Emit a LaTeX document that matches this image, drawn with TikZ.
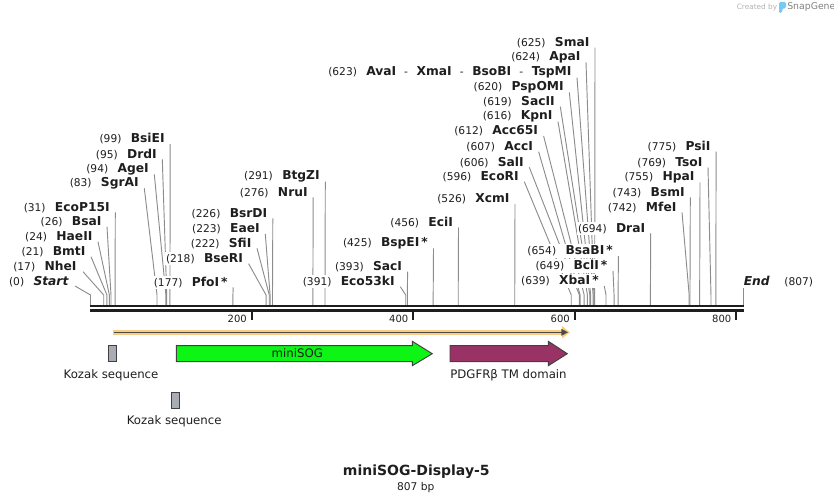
\documentclass[tikz,border=0pt]{standalone}
\usepackage{fontspec}
\setmainfont{DejaVu Sans}
\usepackage{xcolor}
\definecolor{ink}{RGB}{30,30,30}
\definecolor{cutgray}{RGB}{140,140,140}
\definecolor{sog}{RGB}{12,245,20}
\definecolor{pdgfr}{RGB}{153,51,102}
\definecolor{kozak}{RGB}{168,173,180}
\definecolor{orf}{RGB}{250,205,130}
\definecolor{snapblue}{RGB}{120,200,245}
\usepackage{tikz}
\usetikzlibrary{calc, positioning, arrows.meta, backgrounds}
\newcommand{\enz}[1]{{\fontsize{9.2}{10}\selectfont\bfseries #1}}

\begin{document}
\begin{tikzpicture}[x=0.75pt, y=-0.75pt,
  site/.style={anchor=east, inner sep=1pt, fill=white, font=\fontsize{8}{9}\selectfont, text=ink},
  cut/.style={draw=cutgray, line width=0.7pt},
  ticklab/.style={anchor=east, inner sep=0pt, font=\fontsize{7.5}{9}\selectfont, text=ink},
  tickmark/.style={line width=1.5pt, draw=ink},
  feat/.style={draw=ink!85, line width=0.7pt},
  flabel/.style={inner sep=0pt, font=\fontsize{8.8}{10}\selectfont, text=ink},
  kozakbox/.style={feat, fill=kozak, minimum width=6.3pt, minimum height=12pt, inner sep=0pt}
]
  \useasboundingbox (0,0) rectangle (834,503);

  % watermark
  \node[inner sep=0pt, font=\fontsize{5.5}{6}\selectfont, text=black!30] (created) at (757,7) {Created by};
  \fill[snapblue, rounded corners=1pt] (779,2) -- (786,2) -- (786,8) -- (782,9) -- (782,13) -- (779,13) -- cycle;
  \node[inner sep=0pt, font=\fontsize{7}{8}\selectfont, text=black!50, anchor=west] (snapgene) at (787,7) {SnapGene};

  % sequence
  \coordinate (seqa) at (90,306);
  \coordinate (seqb) at (744,306);
  \draw[line width=2pt, ink] (seqa) -- (seqb);
  \draw[line width=2pt, ink] ([yshift=-3.4pt]seqa) -- ([yshift=-3.4pt]seqb);

  \coordinate (t200) at (251.5,311);
  \coordinate (t400) at (413,311);
  \coordinate (t600) at (574.5,311);
  \coordinate (t800) at (736,311);
  \draw[tickmark] (t200) -- ++(0,9);
  \draw[tickmark] (t400) -- ++(0,9);
  \draw[tickmark] (t600) -- ++(0,9);
  \draw[tickmark] (t800) -- ++(0,9);
  \node[ticklab] (l200) at (247,319) {200};
  \node[ticklab] (l400) at (408.5,319) {400};
  \node[ticklab] (l600) at (570,319) {600};
  \node[ticklab] (l800) at (731.5,319) {800};

  % sites, left
  \node[site] (start) at (70,282) {(0)\hspace{7pt}\enz{\itshape Start}};
  \node[site] (nhei) at (78,266.7) {(17)\hspace{7pt}\enz{NheI}};
  \node[site] (bmti) at (87,251.7) {(21)\hspace{7pt}\enz{BmtI}};
  \node[site] (haeii) at (94,236.7) {(24)\hspace{7pt}\enz{HaeII}};
  \node[site] (bsai) at (103,221.7) {(26)\hspace{7pt}\enz{BsaI}};
  \node[site] (ecop15i) at (111.3,207.3) {(31)\hspace{7pt}\enz{EcoP15I}};
  \node[site] (sgrai) at (140.3,183.3) {(83)\hspace{7pt}\enz{SgrAI}};
  \node[site] (agei) at (150.3,169.3) {(94)\hspace{7pt}\enz{AgeI}};
  \node[site] (drdi) at (158.3,154.3) {(95)\hspace{7pt}\enz{DrdI}};
  \node[site] (bsiei) at (166.2,139) {(99)\hspace{7pt}\enz{BsiEI}};
  \node[site] (pfoi) at (229.2,282.3) {(177)\hspace{7pt}\enz{PfoI\,*}};
  \node[site] (bseri) at (244.6,258.7) {(218)\hspace{7pt}\enz{BseRI}};
  \node[site] (sfii) at (253,243.3) {(222)\hspace{7pt}\enz{SfiI}};
  \node[site] (eaei) at (261.3,229) {(223)\hspace{7pt}\enz{EaeI}};
  \node[site] (bsrdi) at (268.8,213.3) {(226)\hspace{7pt}\enz{BsrDI}};
  \node[site] (nrui) at (309.2,192.3) {(276)\hspace{7pt}\enz{NruI}};
  \node[site] (btgzi) at (321.3,176.7) {(291)\hspace{7pt}\enz{BtgZI}};

  % sites, middle
  \node[site] (eco53ki) at (396.3,281.7) {(391)\hspace{7pt}\enz{Eco53kI}};
  \node[site] (saci) at (403.6,266.7) {(393)\hspace{7pt}\enz{SacI}};
  \node[site] (bspei) at (429.5,243.3) {(425)\hspace{7pt}\enz{BspEI\,*}};
  \node[site] (ecii) at (454.5,222.3) {(456)\hspace{7pt}\enz{EciI}};
  \node[site] (xcmi) at (511,199) {(526)\hspace{7pt}\enz{XcmI}};
  \node[site] (ecori) at (520.3,176.7) {(596)\hspace{7pt}\enz{EcoRI}};
  \node[site] (sali) at (525.3,162.3) {(606)\hspace{7pt}\enz{SalI}};
  \node[site] (acci) at (534.6,146.7) {(607)\hspace{7pt}\enz{AccI}};
  \node[site] (acc65i) at (539.6,131) {(612)\hspace{7pt}\enz{Acc65I}};
  \node[site] (kpni) at (554,116.7) {(616)\hspace{7pt}\enz{KpnI}};
  \node[site] (sacii) at (556.3,101.7) {(619)\hspace{7pt}\enz{SacII}};
  \node[site] (pspomi) at (565.3,87.3) {(620)\hspace{7pt}\enz{PspOMI}};
  \node[site] (avai) at (573,72.7) {(623)\hspace{7pt}\enz{AvaI}\hspace{6pt}-\hspace{6.5pt}\enz{XmaI}\hspace{6pt}-\hspace{6.5pt}\enz{BsoBI}\hspace{6pt}-\hspace{6.5pt}\enz{TspMI}};
  \node[site] (apai) at (582,57.3) {(624)\hspace{7pt}\enz{ApaI}};
  \node[site] (smai) at (591,42.7) {(625)\hspace{7pt}\enz{SmaI}};

  % sites, right
  \node[site] (xbai) at (600.3,281) {(639)\hspace{7pt}\enz{XbaI\,*}};
  \node[site] (bcli) at (609,266) {(649)\hspace{7pt}\enz{BclI\,*}};
  \node[site] (bsabi) at (614.4,251) {(654)\hspace{7pt}\enz{BsaBI\,*}};
  \node[site] (drai) at (646.7,228.3) {(694)\hspace{7pt}\enz{DraI}};
  \node[site] (mfei) at (678,207.3) {(742)\hspace{7pt}\enz{MfeI}};
  \node[site] (bsmi) at (686.3,192.3) {(743)\hspace{7pt}\enz{BsmI}};
  \node[site] (hpai) at (696,177.3) {(755)\hspace{7pt}\enz{HpaI}};
  \node[site] (tsoi) at (704,162.3) {(769)\hspace{7pt}\enz{TsoI}};
  \node[site] (psii) at (712.1,146.7) {(775)\hspace{7pt}\enz{PsiI}};
  \node[site, anchor=west] (endlab) at (742.2,281.7) {\enz{\itshape End}\hspace{11pt}(807)};

  % cut positions on the sequence
  \coordinate (c0) at (90.5,305);
  \coordinate (c17) at (90+0.8075*17,305);
  \coordinate (c21) at (90+0.8075*21,305);
  \coordinate (c24) at (90+0.8075*24,305);
  \coordinate (c26) at (90+0.8075*26,305);
  \coordinate (c31) at (90+0.8075*31,305);
  \coordinate (c83) at (90+0.8075*83,305);
  \coordinate (c94) at (90+0.8075*94,305);
  \coordinate (c95) at (90+0.8075*95,305);
  \coordinate (c99) at (90+0.8075*99,305);
  \coordinate (c177) at (90+0.8075*177,305);
  \coordinate (c218) at (90+0.8075*218,305);
  \coordinate (c222) at (90+0.8075*222,305);
  \coordinate (c223) at (90+0.8075*223,305);
  \coordinate (c226) at (90+0.8075*226,305);
  \coordinate (c276) at (90+0.8075*276,305);
  \coordinate (c291) at (90+0.8075*291,305);
  \coordinate (c391) at (90+0.8075*391,305);
  \coordinate (c393) at (90+0.8075*393,305);
  \coordinate (c425) at (90+0.8075*425,305);
  \coordinate (c456) at (90+0.8075*456,305);
  \coordinate (c526) at (90+0.8075*526,305);
  \coordinate (c596) at (90+0.8075*596,305);
  \coordinate (c606) at (90+0.8075*606,305);
  \coordinate (c607) at (90+0.8075*607,305);
  \coordinate (c612) at (90+0.8075*612,305);
  \coordinate (c616) at (90+0.8075*616,305);
  \coordinate (c619) at (90+0.8075*619,305);
  \coordinate (c620) at (90+0.8075*620,305);
  \coordinate (c623) at (90+0.8075*623,305);
  \coordinate (c624) at (90+0.8075*624,305);
  \coordinate (c625) at (90+0.8075*625,305);
  \coordinate (c639) at (90+0.8075*639,305);
  \coordinate (c649) at (90+0.8075*649,305);
  \coordinate (c654) at (90+0.8075*654,305);
  \coordinate (c694) at (90+0.8075*694,305);
  \coordinate (c742) at (90+0.8075*742,305);
  \coordinate (c743) at (90+0.8075*743,305);
  \coordinate (c755) at (90+0.8075*755,305);
  \coordinate (c769) at (90+0.8075*769,305);
  \coordinate (c775) at (90+0.8075*775,305);
  \coordinate (c807) at (743.5,305);

  % cut lines run behind the labels
  \begin{scope}[on background layer]
  \draw[cut] (c0) -- ++(0,-10) -- ([shift={(5,4)}]start.east);
  \draw[cut] (c17) -- ++(0,-10) -- ([shift={(5,5)}]nhei.east);
  \draw[cut] (c21) -- ++(0,-10) -- ([shift={(4,5)}]bmti.east);
  \draw[cut] (c24) -- ++(0,-10) -- ([shift={(4,5)}]haeii.east);
  \draw[cut] (c26) -- ++(0,-10) -- ([shift={(4,5)}]bsai.east);
  \draw[cut] (c31) -- ++(0,-10) -- ([shift={(4,5)}]ecop15i.east);
  \draw[cut] (c83) -- ++(0,-10) -- ([shift={(4,5)}]sgrai.east);
  \draw[cut] (c94) -- ++(0,-10) -- ([shift={(4,5)}]agei.east);
  \draw[cut] (c95) -- ++(0,-10) -- ([shift={(4,5)}]drdi.east);
  \draw[cut] (c99) -- ++(0,-10) -- ([shift={(4,5)}]bsiei.east);
  \draw[cut] (c177) -- ++(0,-10) -- ([shift={(4,5)}]pfoi.east);
  \draw[cut] (c218) -- ++(0,-10) -- ([shift={(4,5)}]bseri.east);
  \draw[cut] (c222) -- ++(0,-10) -- ([shift={(4,5)}]sfii.east);
  \draw[cut] (c223) -- ++(0,-10) -- ([shift={(4,5)}]eaei.east);
  \draw[cut] (c226) -- ++(0,-10) -- ([shift={(4,5)}]bsrdi.east);
  \draw[cut] (c276) -- ++(0,-10) -- ([shift={(4,5)}]nrui.east);
  \draw[cut] (c291) -- ++(0,-10) -- ([shift={(4,5)}]btgzi.east);
  \draw[cut] (c391) -- ++(0,-10) -- ([shift={(4,5)}]eco53ki.east);
  \draw[cut] (c393) -- ++(0,-10) -- ([shift={(4,5)}]saci.east);
  \draw[cut] (c425) -- ++(0,-10) -- ([shift={(4,5)}]bspei.east);
  \draw[cut] (c456) -- ++(0,-10) -- ([shift={(4,5)}]ecii.east);
  \draw[cut] (c526) -- ++(0,-10) -- ([shift={(4,5)}]xcmi.east);
  \draw[cut] (c596) -- ++(0,-10) -- ([shift={(4,5)}]ecori.east);
  \draw[cut] (c606) -- ++(0,-10) -- ([shift={(4,5)}]sali.east);
  \draw[cut] (c607) -- ++(0,-10) -- ([shift={(4,5)}]acci.east);
  \draw[cut] (c612) -- ++(0,-10) -- ([shift={(4,5)}]acc65i.east);
  \draw[cut] (c616) -- ++(0,-10) -- ([shift={(4,5)}]kpni.east);
  \draw[cut] (c619) -- ++(0,-10) -- ([shift={(4,5)}]sacii.east);
  \draw[cut] (c620) -- ++(0,-10) -- ([shift={(4,5)}]pspomi.east);
  \draw[cut] (c623) -- ++(0,-10) -- ([shift={(4,5)}]avai.east);
  \draw[cut] (c624) -- ++(0,-10) -- ([shift={(4,5)}]apai.east);
  \draw[cut] (c625) -- ++(0,-10) -- ([shift={(4,5)}]smai.east);
  \draw[cut] (c639) -- ++(0,-10) -- ([shift={(4,5)}]xbai.east);
  \draw[cut] (c649) -- ++(0,-10) -- ([shift={(4,5)}]bcli.east);
  \draw[cut] (c654) -- ++(0,-10) -- ([shift={(4,5)}]bsabi.east);
  \draw[cut] (c694) -- ++(0,-10) -- ([shift={(4,5)}]drai.east);
  \draw[cut] (c742) -- ++(0,-10) -- ([shift={(4,5)}]mfei.east);
  \draw[cut] (c743) -- ++(0,-10) -- ([shift={(4,5)}]bsmi.east);
  \draw[cut] (c755) -- ++(0,-10) -- ([shift={(4,5)}]hpai.east);
  \draw[cut] (c769) -- ++(0,-10) -- ([shift={(4,5)}]tsoi.east);
  \draw[cut] (c775) -- ++(0,-10) -- ([shift={(4,5)}]psii.east);
  \draw[cut] (c807) -- ([shift={(1.3,5)}]endlab.west);
  \end{scope}

  % features
  \coordinate (orfa) at (112.5,332.3);
  \coordinate (orfb) at (570,332.3);
  \draw[orf, line width=3.8pt, -{Triangle[length=6pt,width=9pt]}] (orfa) -- (orfb);
  \draw[ink!80, line width=1pt, -{Triangle[length=5pt,width=5pt]}] ([xshift=0.75pt]orfa) -- ([xshift=-1.5pt]orfb);

  \node[kozakbox] (koz1) at (112.5,353.7) {};
  \node[flabel] (koz1lab) at (111,375) {Kozak sequence};
  \node[kozakbox] (koz2) at (175.7,400.3) {};
  \node[flabel] (koz2lab) at (174.2,421.7) {Kozak sequence};

  \draw[feat, fill=sog] (176.3,345.7) -- (412.3,345.7) -- (412.3,341.3) -- (432.3,353.7)
    -- (412.3,365.7) -- (412.3,361.7) -- (176.3,361.7) -- cycle;
  \node[flabel] (sogtext) at (297.3,352.7) {miniSOG};

  \draw[feat, fill=pdgfr] (450,345.7) -- (548.3,345.7) -- (548.3,341.3) -- (567.3,353.7)
    -- (548.3,365.7) -- (548.3,361.7) -- (450,361.7) -- cycle;
  \node[flabel] (pdgfrlab) at (508.5,375) {PDGFRβ TM domain};

  % title
  \node[inner sep=0pt, font=\fontsize{10.5}{12}\selectfont\bfseries, text=ink] (title) at (416.3,472) {miniSOG-Display-5};
  \node[inner sep=0pt, font=\fontsize{8}{9}\selectfont, text=ink] (length) at (415.7,487.5) {807 bp};
\end{tikzpicture}
\end{document}
